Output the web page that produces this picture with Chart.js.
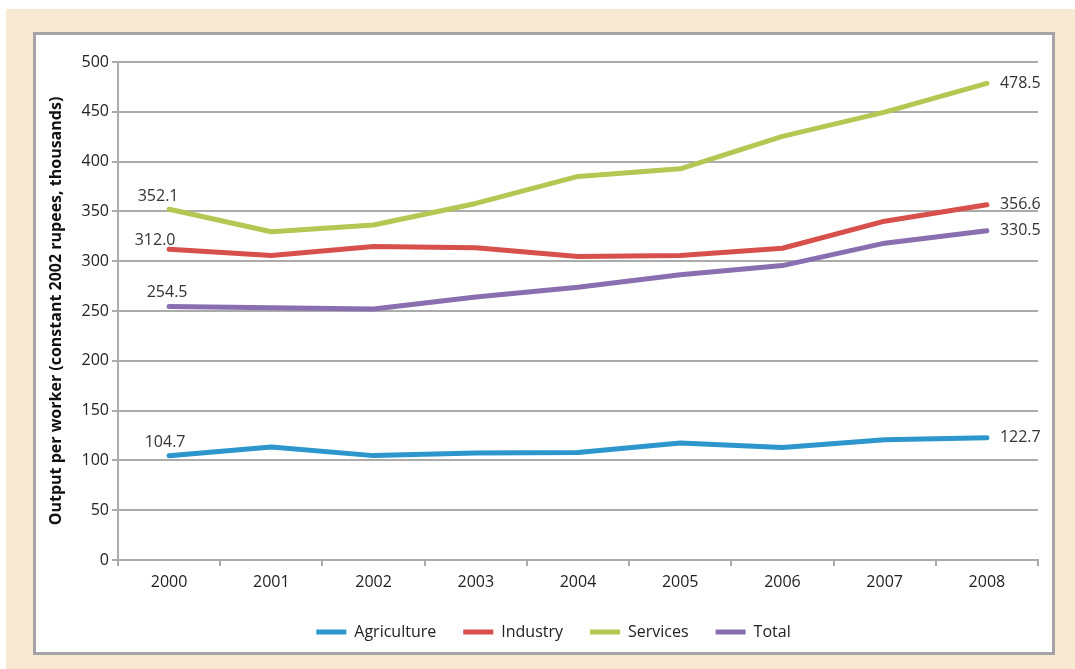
<!DOCTYPE html>
<html>
<head>
<meta charset="utf-8">
<script src="https://cdn.jsdelivr.net/npm/chart.js@4.4.1/dist/chart.umd.min.js"></script>
<style>
  html, body { margin: 0; padding: 0; background: #ffffff; }
  #frame { position: absolute; left: 6px; top: 9px; width: 1069px; height: 660px; background: #f8ead2; }
  #panel { position: absolute; left: 33px; top: 32px; width: 1016px; height: 617px; background: #ffffff; border: 3px solid #a4a4a8; }
  #wrap { position: absolute; left: 0; top: 0; width: 1075px; height: 669px; }
</style>
</head>
<body>
<div id="frame"></div>
<div id="panel"></div>
<div id="wrap"><canvas id="chart"></canvas></div>
<script>
// Output per worker, constant 2002 rupees (thousands)
const years = ['2000', '2001', '2002', '2003', '2004', '2005', '2006', '2007', '2008'];
const agriculture = [104.7, 113.4, 104.8, 107.5, 108.0, 117.4, 113.0, 120.8, 122.7];
const industry = [312.0, 305.7, 314.7, 313.5, 304.7, 305.7, 313.0, 340.2, 356.6];
const services = [352.1, 329.6, 336.3, 358.0, 385.1, 392.8, 425.3, 449.7, 478.5];
const total = [254.5, 253.3, 252.0, 264.0, 273.9, 286.3, 295.6, 318.1, 330.5];

const FONT = "'Open Sans', sans-serif";
const GRID = '#ababab';

// offsets for the 2000 value labels (per series)
const firstLabelOffset = [[-4, -13], [-14, -9], [-11, -13], [-2, -14]];

const endLabels = {
  id: 'endLabels',
  afterDatasetsDraw(chart) {
    const ctx = chart.ctx;
    ctx.save();
    ctx.font = '16px ' + FONT;
    ctx.fillStyle = '#333333';
    ctx.textBaseline = 'middle';
    chart.data.datasets.forEach((ds, i) => {
      const pts = chart.getDatasetMeta(i).data;
      const first = pts[0];
      const last = pts[pts.length - 1];
      const off = firstLabelOffset[i];
      ctx.textAlign = 'center';
      ctx.fillText(ds.data[0].toFixed(1), first.x + off[0], first.y + off[1]);
      ctx.textAlign = 'left';
      ctx.fillText(ds.data[ds.data.length - 1].toFixed(1), last.x + 13, last.y);
    });
    ctx.restore();
  }
};

// fixed legend height, and nudge it right a little
const legendTweak = {
  id: 'legendTweak',
  beforeInit(chart) {
    const fit = chart.legend.fit;
    chart.legend.fit = function () {
      fit.bind(chart.legend)();
      this.height = 72;
    };
  },
  afterLayout(chart) {
    chart.legend.left += 13;
    chart.legend.right += 13;
  }
};

function series(label, data, color) {
  return {
    label: label,
    data: data,
    borderColor: color,
    backgroundColor: color,
    borderWidth: 5,
    borderCapStyle: 'round',
    borderJoinStyle: 'round',
    pointRadius: 0,
    tension: 0
  };
}

const ctx = document.getElementById('chart').getContext('2d');
new Chart(ctx, {
  type: 'line',
  data: {
    labels: years,
    datasets: [
      series('Agriculture', agriculture, '#2c96cd'),
      series('Industry', industry, '#d8504b'),
      series('Services', services, '#b5c653'),
      series('Total', total, '#8a6fb0')
    ]
  },
  options: {
    responsive: true,
    maintainAspectRatio: false,
    animation: false,
    layout: { padding: { left: 43, right: 37, top: 62, bottom: 0 } },
    plugins: {
      legend: {
        position: 'bottom',
        labels: {
          usePointStyle: true,
          pointStyle: 'line',
          pointStyleWidth: 30,
          padding: 27,
          color: '#222222',
          font: { size: 16, family: FONT }
        }
      },
      tooltip: { enabled: false }
    },
    scales: {
      x: {
        offset: true,
        afterFit: (scale) => { scale.height = 37; },
        grid: { offset: true, drawOnChartArea: false, drawTicks: true, tickLength: 6, color: GRID, lineWidth: 2 },
        border: { color: GRID, width: 2 },
        ticks: { color: '#222222', padding: 7, font: { size: 16, family: FONT }, maxRotation: 0 }
      },
      y: {
        min: 0,
        max: 500,
        afterFit: (scale) => { scale.width = 75; },
        grid: { color: GRID, lineWidth: 2, tickLength: 6 },
        border: { color: GRID, width: 2 },
        ticks: { stepSize: 50, color: '#222222', padding: 3, font: { size: 16, family: FONT } },
        title: {
          display: true,
          text: 'Output per worker (constant 2002 rupees, thousands)',
          color: '#111111',
          padding: 4,
          font: { size: 16, weight: 'bold', family: FONT }
        }
      }
    }
  },
  plugins: [endLabels, legendTweak]
});
</script>
</body>
</html>
